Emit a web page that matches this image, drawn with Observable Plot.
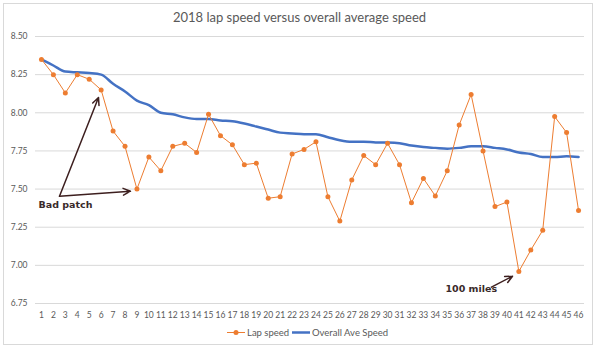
<!DOCTYPE html>
<html><head><meta charset="utf-8">
<script src="https://cdn.jsdelivr.net/npm/d3@7"></script>
<script src="https://cdn.jsdelivr.net/npm/@observablehq/plot@0.6"></script>
<style>
html,body{margin:0;padding:0;background:#fff;}
#wrap{position:relative;width:599px;height:352px;overflow:hidden;font-family:Lato,"Open Sans",sans-serif;background:#fff;}
#frame{position:absolute;left:3px;top:3px;width:590px;height:342px;border:1px solid #d9d9d9;box-sizing:border-box;}
#title{position:absolute;left:0;top:9px;width:599px;text-align:center;font-size:13px;line-height:16px;color:#595959;}
#chart{position:absolute;left:0;top:28px;}
.leg{position:absolute;top:326px;font-size:9.5px;line-height:13px;color:#595959;white-space:nowrap;}
.sw{position:absolute;top:326px;}
</style>
</head><body>
<div id="wrap">
  <div id="frame"></div>
  <div id="title">2018 lap speed versus overall average speed</div>
  <div id="chart"></div>
  <svg class="sw" style="left:226px" width="20" height="13"><line x1="1" y1="6.5" x2="19" y2="6.5" stroke="#ED7D31" stroke-width="1"/><circle cx="10" cy="6.5" r="2.5" fill="#ED7D31"/></svg>
  <div class="leg" style="left:247px">Lap speed</div>
  <svg class="sw" style="left:291px" width="20" height="13"><line x1="1" y1="6.5" x2="19" y2="6.5" stroke="#4472C4" stroke-width="2.5"/></svg>
  <div class="leg" style="left:312px">Overall Ave Speed</div>
</div>
<script>
const laps = d3.range(1, 47);
const lapSpeed = [8.35, 8.25, 8.13, 8.25, 8.22, 8.15, 7.88, 7.78, 7.50, 7.71,
  7.62, 7.78, 7.80, 7.74, 7.99, 7.85, 7.79, 7.66, 7.67, 7.44,
  7.45, 7.73, 7.76, 7.81, 7.45, 7.29, 7.56, 7.72, 7.66, 7.80,
  7.66, 7.41, 7.57, 7.455, 7.62, 7.92, 8.12, 7.75, 7.385, 7.415,
  6.96, 7.10, 7.23, 7.975, 7.87, 7.36];
const overallAve = [8.35, 8.31, 8.27, 8.265, 8.26, 8.25, 8.19, 8.14, 8.08, 8.05,
  8.00, 7.99, 7.97, 7.96, 7.96, 7.95, 7.945, 7.93, 7.91, 7.89,
  7.87, 7.865, 7.86, 7.86, 7.84, 7.82, 7.81, 7.81, 7.806, 7.805,
  7.80, 7.785, 7.775, 7.77, 7.765, 7.77, 7.78, 7.78, 7.77, 7.76,
  7.74, 7.73, 7.71, 7.71, 7.715, 7.71];
const yTicks = [6.75, 7.00, 7.25, 7.50, 7.75, 8.00, 8.25, 8.50];

// annotations (data coordinates: lap, speed)
const annotLabels = ["Bad patch", "100 miles"];
const annotLabelX = [0.75, 34.85];
const annotLabelY = [7.394, 6.844];
const arrowX1 = [2.51, 2.51, 38.7];
const arrowY1 = [7.453, 7.453, 6.857];
const arrowX2 = [5.78, 8.46, 40.47];
const arrowY2 = [8.10, 7.486, 6.929];

const data = laps.map((lap, i) => ({lap, speed: lapSpeed[i], ave: overallAve[i]}));
const labels = annotLabels.map((t, i) => ({t, x: annotLabelX[i], y: annotLabelY[i]}));
const arrows = arrowX1.map((x1, i) => ({x1, y1: arrowY1[i], x2: arrowX2[i], y2: arrowY2[i]}));

const chart = Plot.plot({
  width: 599, height: 295,
  marginLeft: 35, marginRight: 15, marginTop: 8, marginBottom: 20,
  style: {fontFamily: "Lato, 'Open Sans', sans-serif", fontSize: "8.5px", color: "#595959", background: "transparent", overflow: "visible"},
  x: {domain: [0.5, 46.5]},
  y: {domain: [6.75, 8.5]},
  marks: [
    Plot.ruleY(yTicks, {stroke: "#d9d9d9", strokeWidth: 1}),
    Plot.axisX({ticks: laps, tickFormat: d => d, tickSize: 0, tickPadding: 8, fill: "#595959", label: null}),
    Plot.axisY({ticks: yTicks, tickFormat: d3.format(".2f"), tickSize: 0, tickPadding: 8, fill: "#595959", label: null}),
    Plot.line(data, {x: "lap", y: "ave", stroke: "#4472C4", strokeWidth: 2.5, curve: "monotone-x"}),
    Plot.line(data, {x: "lap", y: "speed", stroke: "#ED7D31", strokeWidth: 1}),
    Plot.dot(data, {x: "lap", y: "speed", r: 2.5, fill: "#ED7D31"}),
    Plot.arrow(arrows, {x1: "x1", y1: "y1", x2: "x2", y2: "y2", stroke: "#3d1f1f", strokeWidth: 1.5, headLength: 8, headAngle: 50}),
    Plot.text(labels, {x: "x", y: "y", text: "t", textAnchor: "start", fill: "#3a2a2a", fontWeight: "bold", fontSize: 9.5, fontFamily: "'DejaVu Sans', sans-serif"})
  ]
});
document.getElementById("chart").appendChild(chart);
</script>
</body></html>
